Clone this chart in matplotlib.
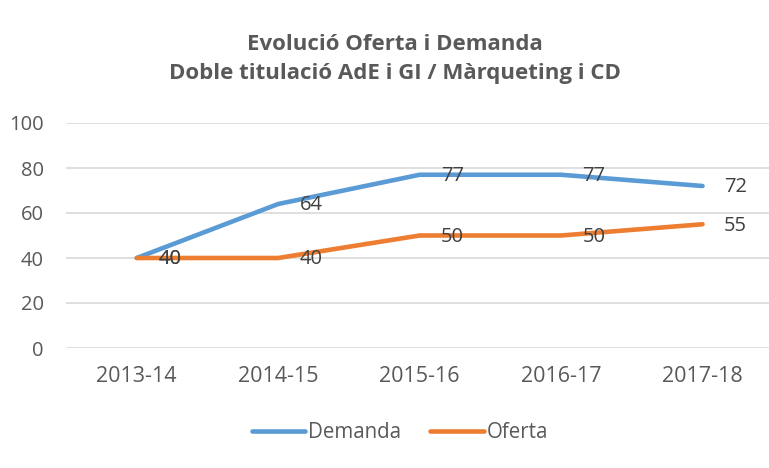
import matplotlib.pyplot as plt
from matplotlib.lines import Line2D

plt.rcParams["font.family"] = ["Open Sans", "DejaVu Sans"]

# -------- data --------
years = ["2013-14", "2014-15", "2015-16", "2016-17", "2017-18"]
demanda = [40, 64, 77, 77, 72]
oferta = [40, 40, 50, 50, 55]

blue, orange = "#5B9BD5", "#ED7D31"
grey_txt, label_txt = "#595959", "#404040"

fig = plt.figure(figsize=(7.69, 4.68), dpi=100)
ax = fig.add_axes([66 / 769, 1 - 348 / 468, 1 - 66 / 769, 225 / 468])

x = list(range(len(years)))
for vals, colour in [(demanda, blue), (oferta, orange)]:
    ax.plot(x, vals, color=colour, lw=3.3, solid_capstyle="round",
            solid_joinstyle="round", zorder=3)
    for xi, v in zip(x, vals):
        ax.annotate(str(v), (xi, v), xytext=(15.5, -1), textcoords="offset points",
                    ha="left", va="center", fontsize=14.5, color=label_txt,
                    zorder=4)

ax.set_xlim(-0.5, 4.47)
ax.set_ylim(0, 100)
ax.set_yticks(range(0, 101, 20))
ax.set_xticks(x, years)
ax.grid(axis="y", color="#D9D9D9", lw=1.2)
ax.set_axisbelow(True)
for s in ax.spines.values():
    s.set_visible(False)
ax.tick_params(length=0, labelsize=14.5, labelcolor=grey_txt)
ax.tick_params(axis="x", pad=13, labelsize=15.5)
ax.tick_params(axis="y", pad=16)

fig.text(395 / 769, 1 - 45 / 468, "Evolució Oferta i Demanda", ha="center",
         va="center", fontsize=16, fontweight="bold", color=grey_txt)
fig.text(395 / 769, 1 - 73 / 468, "Doble titulació AdE i GI / Màrqueting i CD",
         ha="center", va="center", fontsize=16, fontweight="bold", color=grey_txt)

handles = [Line2D([], [], color=blue, lw=3.3, solid_capstyle="round"),
           Line2D([], [], color=orange, lw=3.3, solid_capstyle="round")]
fig.legend(handles, ["Demanda", "Oferta"], loc="center",
           bbox_to_anchor=(0.52, 1 - 433 / 468), ncol=2, frameon=False,
           fontsize=14.8, labelcolor=grey_txt, handlelength=2.6,
           handletextpad=0.15, columnspacing=1.4)

fig.savefig("out.png", dpi=100)
